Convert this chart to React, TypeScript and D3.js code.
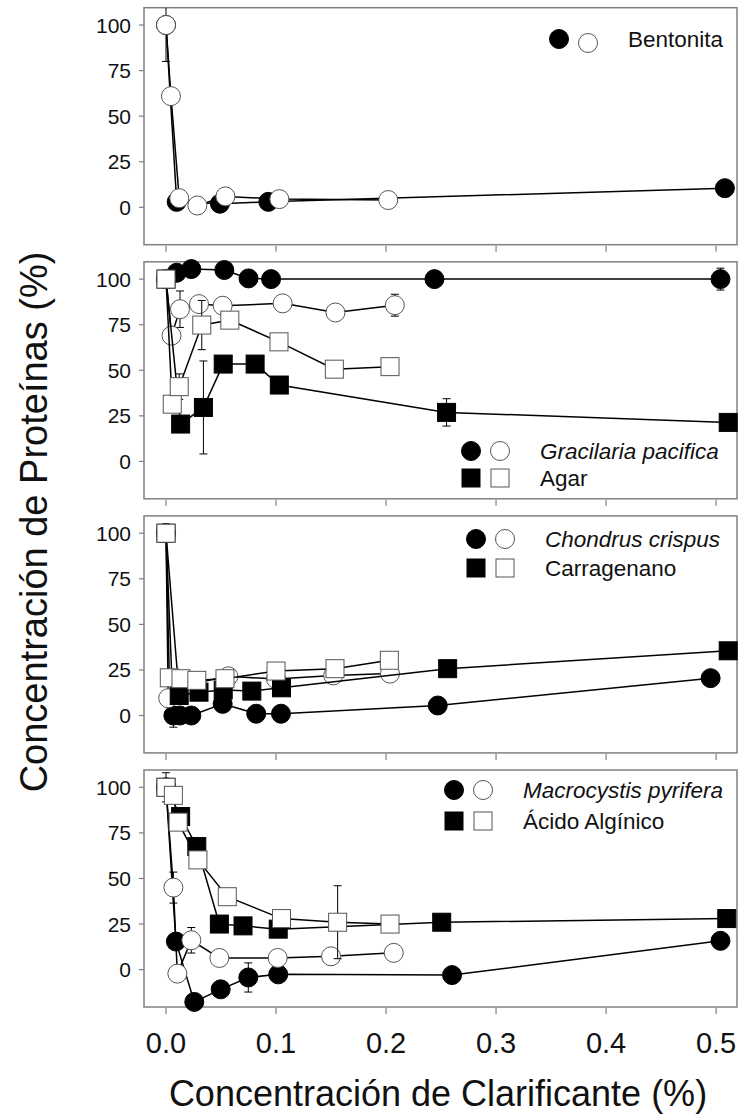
import React from 'react';
import * as d3 from 'd3';

const W = 738;
const H = 1118;

const xTicks = [0, 0.1, 0.2, 0.3, 0.4, 0.5];
const yTicks = [0, 25, 50, 75, 100];

// Bentonita
const bentFilledX = [0, 0.0097, 0.049, 0.093, 0.508];
const bentFilledY = [100, 3, 2, 3, 10.5];
const bentOpenX = [0, 0.0045, 0.012, 0.0285, 0.054, 0.103, 0.202];
const bentOpenY = [100, 61, 5, 1, 6, 4.5, 4];
const bentOpenErr = [20, 0, 0, 0, 0, 0, 0];

// Gracilaria pacifica / Agar
const gracFilledX = [0, 0.0097, 0.023, 0.053, 0.075, 0.0955, 0.244, 0.504];
const gracFilledY = [100, 103.5, 105.5, 105, 100.4, 100, 100, 100];
const gracFilledErr = [0, 0, 0, 0, 0, 0, 0, 6];
const gracOpenX = [0, 0.005, 0.0127, 0.03, 0.0515, 0.106, 0.154, 0.208];
const gracOpenY = [100, 69, 83.5, 86.3, 85.4, 86.7, 81.7, 85.7];
const gracOpenErr = [0, 0, 10, 0, 0, 0, 0, 6];
const agarFilledX = [0, 0.0133, 0.034, 0.052, 0.081, 0.103, 0.255, 0.511];
const agarFilledY = [100, 20.5, 29.6, 53.4, 53.4, 41.9, 26.9, 21.4];
const agarFilledErr = [0, 4, 25.5, 0, 0, 0, 7.5, 0];
const agarOpenX = [0, 0.0057, 0.012, 0.0325, 0.058, 0.1027, 0.153, 0.2036];
const agarOpenY = [100, 31.4, 41, 74.8, 77.5, 65.6, 50.6, 52];
const agarOpenErr = [0, 0, 7, 13.5, 0, 0, 0, 0];

// Chondrus crispus / Carragenano
const chonFilledX = [0, 0.0067, 0.0127, 0.023, 0.0515, 0.082, 0.1045, 0.247, 0.495];
const chonFilledY = [100, 0, 0, 0, 6.4, 1, 1, 5.5, 20.5];
const chonFilledErr = [0, 6.4, 0, 0, 0, 0, 0, 0, 0];
const chonOpenX = [0, 0.002, 0.013, 0.028, 0.0567, 0.1, 0.152, 0.2036];
const chonOpenY = [100, 9.5, 18, 18, 21.5, 20, 22, 23];
const carrFilledX = [0, 0.012, 0.03, 0.052, 0.078, 0.105, 0.256, 0.511];
const carrFilledY = [100, 11, 12.8, 14, 13.4, 15.2, 25.7, 35.5];
const carrOpenX = [0, 0.003, 0.0136, 0.028, 0.0536, 0.1, 0.1536, 0.203];
const carrOpenY = [100, 20.7, 20.2, 19.3, 20.2, 24.4, 25.7, 30.3];
const carrOpenErr = [5, 0, 0, 0, 0, 0, 0, 0];

// Macrocystis pyrifera / Acido alginico
const macFilledX = [0, 0.009, 0.0257, 0.0497, 0.0748, 0.102, 0.26, 0.504];
const macFilledY = [100, 15.4, -17.7, -10.8, -4.3, -2.6, -3, 15.8];
const macFilledErr = [0, 0, 0, 0, 8, 0, 0, 0];
const macOpenX = [0, 0.0067, 0.0103, 0.023, 0.0485, 0.1015, 0.15, 0.207];
const macOpenY = [100, 45, -2.2, 16.1, 6.4, 6.4, 7.3, 9.2];
const macOpenErr = [0, 8.5, 0, 7, 0, 0, 0, 0];
const algFilledX = [0, 0.0133, 0.028, 0.0485, 0.07, 0.102, 0.2506, 0.5097];
const algFilledY = [100, 84, 67.5, 25, 24, 22.2, 26, 28];
const algFilledErr = [0, 0, 3, 0, 0, 0, 0, 0];
const algOpenX = [0, 0.0067, 0.011, 0.029, 0.0557, 0.105, 0.156, 0.2036];
const algOpenY = [100, 95.6, 80.9, 60.2, 40, 28, 26, 25];
const algOpenErr = [8, 0, 0, 0, 3, 0, 20, 0];

const legendLabels = [
  ['Bentonita'],
  ['Gracilaria pacifica', 'Agar'],
  ['Chondrus crispus', 'Carragenano'],
  ['Macrocystis pyrifera', 'Ácido Algínico'],
];

type Shape = 'circle' | 'square';
type Series = { x: number[]; y: number[]; err?: number[]; shape: Shape; filled: boolean };

const mk = (x: number[], y: number[], shape: Shape, filled: boolean, err?: number[]): Series => ({
  x, y, err, shape, filled,
});

// draw order: filled circles, open circles, filled squares, open squares
const panelSeries: Series[][] = [
  [mk(bentFilledX, bentFilledY, 'circle', true), mk(bentOpenX, bentOpenY, 'circle', false, bentOpenErr)],
  [
    mk(gracFilledX, gracFilledY, 'circle', true, gracFilledErr),
    mk(gracOpenX, gracOpenY, 'circle', false, gracOpenErr),
    mk(agarFilledX, agarFilledY, 'square', true, agarFilledErr),
    mk(agarOpenX, agarOpenY, 'square', false, agarOpenErr),
  ],
  [
    mk(chonFilledX, chonFilledY, 'circle', true, chonFilledErr),
    mk(chonOpenX, chonOpenY, 'circle', false),
    mk(carrFilledX, carrFilledY, 'square', true),
    mk(carrOpenX, carrOpenY, 'square', false, carrOpenErr),
  ],
  [
    mk(macFilledX, macFilledY, 'circle', true, macFilledErr),
    mk(macOpenX, macOpenY, 'circle', false, macOpenErr),
    mk(algFilledX, algFilledY, 'square', true, algFilledErr),
    mk(algOpenX, algOpenY, 'square', false, algOpenErr),
  ],
];

const legendPos = [
  { x: 628, y: 39, gap: 0, openDy: 4 },
  { x: 540, y: 451, gap: 27, openDy: 0 },
  { x: 545, y: 539, gap: 29, openDy: 0 },
  { x: 523, y: 790, gap: 31, openDy: 0 },
];

const FONT = '"Liberation Sans", Arial, Helvetica, sans-serif';
const panelTop = [7.7, 261.8, 515.9, 770];
const panelH = 237;
const left = 144;
const right = 737;

const x = d3.scaleLinear().domain([-0.02, 0.519]).range([left, right]);

function Marker({ cx, cy, shape, filled }: { cx: number; cy: number; shape: Shape; filled: boolean }) {
  const fill = filled ? '#000' : '#fff';
  const stroke = filled ? '#000' : '#555';
  if (shape === 'circle') {
    return <circle cx={cx} cy={cy} r={9.5} fill={fill} stroke={stroke} strokeWidth={1} />;
  }
  return <rect x={cx - 9} y={cy - 9} width={18} height={18} fill={fill} stroke={stroke} strokeWidth={1} />;
}

function Panel({ idx }: { idx: number }) {
  const top = panelTop[idx];
  const y = d3.scaleLinear().domain([-20.5, 109.5]).range([top + panelH, top]);
  const line = d3.line<number>();
  const lp = legendPos[idx];
  const labels = legendLabels[idx];
  return (
    <g>
      <defs>
        <clipPath id={`clip${idx}`}>
          <rect x={left} y={top} width={right - left} height={panelH} />
        </clipPath>
      </defs>
      <rect x={left} y={top} width={right - left} height={panelH} fill="none" stroke="#808080" strokeWidth={1.5} />
      {yTicks.map((t) => (
        <g key={t}>
          <line x1={left - 5} x2={left} y1={y(t)} y2={y(t)} stroke="#808080" strokeWidth={1.2} />
          <text x={131} y={y(t) + 7.5} textAnchor="end" fontSize={21} fontFamily={FONT} fill="#111">
            {t}
          </text>
        </g>
      ))}
      {xTicks.map((t) => (
        <line key={t} x1={x(t)} x2={x(t)} y1={top + panelH + 1} y2={top + panelH + 7} stroke="#808080" strokeWidth={1.2} />
      ))}
      {panelSeries[idx].map((s, si) => {
        const pts = s.x.map((xv, i) => [x(xv), y(s.y[i])] as [number, number]);
        return (
          <g key={si}>
            <path d={line(pts) || ''} fill="none" stroke="#000" strokeWidth={1.5} />
            <g clipPath={`url(#clip${idx})`}>
              {s.err &&
                s.err.map((e, i) =>
                  e > 0 ? (
                    <g key={i} stroke="#000" strokeWidth={1}>
                      <line x1={pts[i][0]} x2={pts[i][0]} y1={y(s.y[i] - e)} y2={y(s.y[i] + e)} />
                      <line x1={pts[i][0] - 4} x2={pts[i][0] + 4} y1={y(s.y[i] - e)} y2={y(s.y[i] - e)} />
                      <line x1={pts[i][0] - 4} x2={pts[i][0] + 4} y1={y(s.y[i] + e)} y2={y(s.y[i] + e)} />
                    </g>
                  ) : null
                )}
            </g>
            {pts.map((p, i) => (
              <Marker key={i} cx={p[0]} cy={p[1]} shape={s.shape} filled={s.filled} />
            ))}
          </g>
        );
      })}
      {labels.map((lab, r) => {
        const shape: Shape = r === 0 ? 'circle' : 'square';
        const cy = lp.y + r * lp.gap;
        return (
          <g key={lab}>
            <Marker cx={lp.x - 69} cy={cy} shape={shape} filled={true} />
            <Marker cx={lp.x - 40} cy={cy + lp.openDy} shape={shape} filled={false} />
            <text
              x={lp.x}
              y={cy + 8}
              fontSize={22.5}
              fontFamily={FONT}
              fontStyle={idx > 0 && r === 0 ? 'italic' : 'normal'}
              fill="#111"
            >
              {lab}
            </text>
          </g>
        );
      })}
    </g>
  );
}

export default function App() {
  const bottom = panelTop[3] + panelH;
  return (
    <svg
      width={W}
      height={H}
      viewBox={`0 0 ${W} ${H}`}
      style={{ position: 'absolute', left: 0, top: 0, background: '#fff' }}
    >
      <rect x={0} y={0} width={W} height={H} fill="#fff" />
      {panelTop.map((_, i) => (
        <Panel key={i} idx={i} />
      ))}
      {xTicks.map((t) => (
        <text key={t} x={x(t)} y={bottom + 46} textAnchor="middle" fontSize={29} fontFamily={FONT} fill="#111">
          {d3.format('.1f')(t)}
        </text>
      ))}
      <text x={438} y={1106} textAnchor="middle" fontSize={36} fontFamily={FONT} fill="#111">
        Concentración de Clarificante (%)
      </text>
      <text
        transform={`translate(47, 522) rotate(-90)`}
        textAnchor="middle"
        fontSize={38}
        fontFamily={FONT}
        fill="#111"
      >
        Concentración de Proteínas (%)
      </text>
    </svg>
  );
}
